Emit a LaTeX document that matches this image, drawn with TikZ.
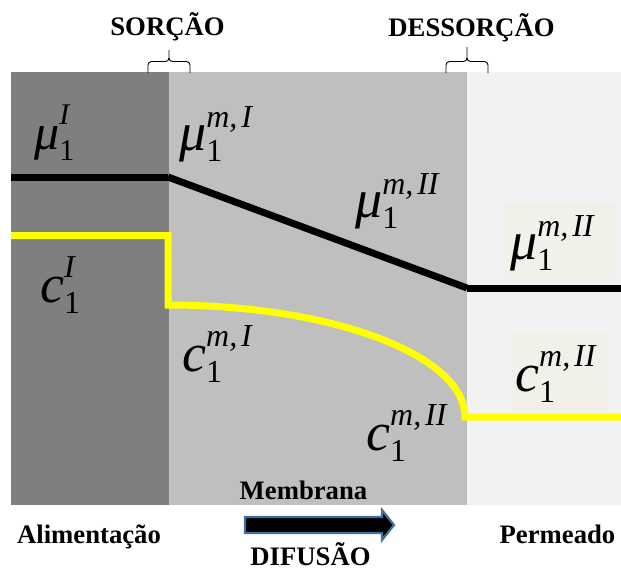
\documentclass[tikz,border=0pt]{standalone}
\usepackage{fontspec}
\setmainfont{Liberation Serif}
\definecolor{feedgray}{HTML}{7F7F7F}
\definecolor{membgray}{HTML}{BFBFBF}
\definecolor{permgray}{HTML}{F2F2F2}
\definecolor{lblbox}{HTML}{F1F0E9}
\definecolor{concyel}{HTML}{FFFF00}
\definecolor{arrowedge}{HTML}{41719C}
% #1 raise of superscript, #2 base size, #3 script size, #4 symbol, #5 superscript
\newcommand\symlab[5][0.45em]{{\fontsize{#2}{#2}\selectfont\itshape #4\rlap{\raisebox{#1}{\fontsize{#3}{#3}\selectfont #5}}\raisebox{-0.22em}{\fontsize{#3}{#3}\selectfont\upshape 1}}}
\newcommand\cm{,\kern0.12em}
\tikzset{
  btext/.style={font=\fontsize{26.7}{30}\selectfont\bfseries, anchor=base, inner sep=0pt},
  sym/.style={anchor=base west, inner sep=0pt},
  potline/.style={line width=7pt, black},
  concline/.style={line width=7pt, concyel, line join=miter},
  bracemark/.style={line width=0.9pt, black},
  arrowbody/.style={fill=black, draw=arrowedge, line width=2.2pt, line join=miter},
}
\begin{document}
\begin{tikzpicture}[x=1pt, y=-1pt]
\useasboundingbox (0,0) rectangle (621,571);
% panels
\fill[feedgray] (11,72) rectangle (169,505);
\fill[membgray] (169,72) rectangle (467,505);
\fill[permgray] (467,72) rectangle (621,505);
% label backgrounds in permeate
\fill[lblbox] (503,203) rectangle (616,279);
\fill[lblbox] (510,332) rectangle (609,410);
% chemical potential line
\coordinate (p0) at (11,177);
\coordinate (p1) at (168,177);
\coordinate (p2) at (467,288);
\coordinate (p3) at (621,288);
\draw[potline] (p0) -- (p1);
\draw[potline] (p1) -- (p2);
\draw[potline] (p2) -- (p3);
% concentration line
\coordinate (c0) at (11,235.5);
\coordinate (c1) at (168,235.5);
\coordinate (c2) at (168,305);
\coordinate (c3) at (621,417);
\draw[concline] (c0) -- (c1) -- (c2) arc[start angle=-90, end angle=0, x radius=297, y radius=112] -- (c3);
% braces
\coordinate (st) at (169,50);
\coordinate (dt) at (467,47);
\draw[bracemark] (148,73) -- (148,65) to[out=90,in=180] (151.5,61.5) -- (165.5,61.5) to[out=0,in=-90] (169,58) -- (st);
\draw[bracemark] (190,73) -- (190,65) to[out=90,in=0] (186.5,61.5) -- (172.5,61.5) to[out=180,in=-90] (169,58);
\draw[bracemark] (446,73) -- (446,65) to[out=90,in=180] (449.5,61.5) -- (463.5,61.5) to[out=0,in=-90] (467,58) -- (dt);
\draw[bracemark] (488,73) -- (488,65) to[out=90,in=0] (484.5,61.5) -- (470.5,61.5) to[out=180,in=-90] (467,58);
% texts
\node[btext] (sorcao) at (167.5,35) {SORÇÃO};
\node[btext] (dessorcao) at (471.5,36) {DESSORÇÃO};
\node[btext] (membrana) at (303.5,499) {Membrana};
\node[btext] (alim) at (89,543) {Alimentação};
\node[btext] (perm) at (557.5,543) {Permeado};
\node[btext] (difusao) at (310.5,565) {DIFUSÃO};
% symbol labels
\node[sym] (muI) at (34,149) {\symlab[0.5em]{50}{30}{μ}{I}};
\node[sym] (mumI) at (179,150) {\symlab[0.42em]{54}{32}{μ}{m\cm I}};
\node[sym] (mumII) at (355,217) {\symlab[0.42em]{54}{32}{μ}{m\cm II}};
\node[sym] (mumIIp) at (510,259) {\symlab[0.42em]{54}{32}{μ}{m\cm II}};
\node[sym] (cI) at (40,302) {\symlab{54}{32}{c}{I}};
\node[sym] (cmI) at (182,371) {\symlab{54}{32}{c}{m\cm I}};
\node[sym] (cmII) at (366,450) {\symlab{54}{32}{c}{m\cm II}};
\node[sym] (cmIIp) at (515,391) {\symlab{54}{32}{c}{m\cm II}};
% diffusion arrow
\draw[arrowbody] (245,517) -- (382,517) -- (382,510) -- (394,525) -- (382,540) -- (382,533) -- (245,533) -- cycle;
\end{tikzpicture}
\end{document}
